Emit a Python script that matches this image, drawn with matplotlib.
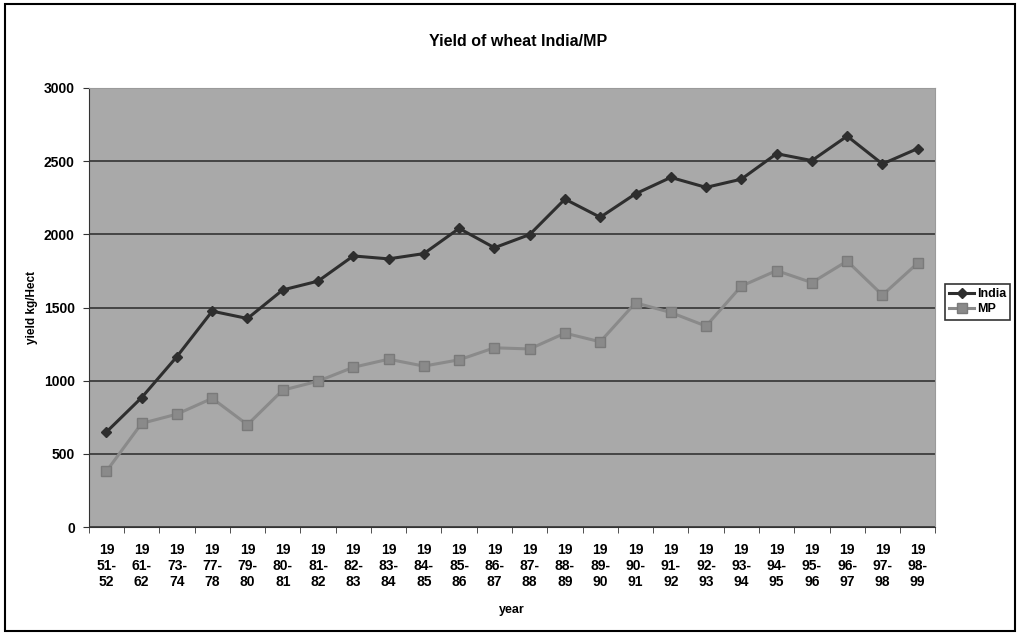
import matplotlib
matplotlib.use("Agg")
import matplotlib.pyplot as plt
from matplotlib.patches import Rectangle

# Données
years = ["19\n51-\n52", "19\n61-\n62", "19\n73-\n74", "19\n77-\n78", "19\n79-\n80",
         "19\n80-\n81", "19\n81-\n82", "19\n82-\n83", "19\n83-\n84", "19\n84-\n85",
         "19\n85-\n86", "19\n86-\n87", "19\n87-\n88", "19\n88-\n89", "19\n89-\n90",
         "19\n90-\n91", "19\n91-\n92", "19\n92-\n93", "19\n93-\n94", "19\n94-\n95",
         "19\n95-\n96", "19\n96-\n97", "19\n97-\n98", "19\n98-\n99"]
india = [650, 885, 1165, 1475, 1425, 1620, 1680, 1852, 1832, 1868, 2040, 1908,
         1998, 2240, 2116, 2276, 2388, 2320, 2376, 2550, 2503, 2670, 2480, 2585]
mp = [382, 709, 772, 880, 700, 936, 997, 1092, 1147, 1100, 1143, 1225,
      1217, 1325, 1266, 1532, 1466, 1373, 1646, 1752, 1670, 1817, 1585, 1803]
yticks = [0, 500, 1000, 1500, 2000, 2500, 3000]

plt.rcParams['font.family'] = ['Liberation Sans', 'DejaVu Sans']
plt.rcParams['font.weight'] = 'bold'

fig = plt.figure(figsize=(10.2, 6.36), dpi=100)
fig.patch.set_facecolor('white')

# Cadre extérieur
fig.patches.append(Rectangle((0.005, 0.008), 0.99, 0.986, transform=fig.transFigure,
                             fill=False, edgecolor='black', linewidth=1.5))

ax = fig.add_axes([0.087, 0.171, 0.83, 0.691])
ax.set_facecolor('#a9a9a9')

x = list(range(len(years)))
ax.plot(x, india, color='#2e2e2e', linewidth=2.2, marker='D', markersize=5.5,
        markerfacecolor='#2e2e2e', markeredgecolor='#2e2e2e', label='India')
ax.plot(x, mp, color='#8a8a8a', linewidth=2.2, marker='s', markersize=6.5,
        markerfacecolor='#8a8a8a', markeredgecolor='#7a7a7a', label='MP')

ax.set_ylim(0, 3000)
ax.set_xlim(-0.5, len(years) - 0.5)
ax.set_yticks(yticks)
ax.set_yticklabels([str(v) for v in yticks], fontsize=10, fontweight='bold')
ax.yaxis.grid(True, color='#2a2a2a', linewidth=1.1)
ax.set_axisbelow(True)

ax.set_xticks(x)
ax.set_xticklabels(years, fontsize=10, fontweight='bold', linespacing=1.2)
ax.set_xticks([i - 0.5 for i in range(len(years) + 1)], minor=True)
ax.tick_params(axis='x', which='major', length=0, pad=11)
ax.tick_params(axis='x', which='minor', length=4, color='#333333')
ax.tick_params(axis='y', length=4, color='#333333', pad=6)

for s in ['left', 'bottom']:
    ax.spines[s].set_color('#333333')
for s in ['top', 'right']:
    ax.spines[s].set_color('#9a9a9a')

ax.set_xlabel('year', fontsize=9, fontweight='bold', labelpad=11)
ax.set_ylabel('yield kg/Hect', fontsize=8.5, fontweight='bold', labelpad=4)
fig.text(0.508, 0.935, 'Yield of wheat India/MP', ha='center', va='center',
         fontsize=11.5, fontweight='bold')

leg = fig.legend(loc='upper left', bbox_to_anchor=(945 / 1020, 1 - 284 / 636), fontsize=9,
                 frameon=True, fancybox=False, edgecolor='black', borderpad=0.35,
                 handlelength=2, handletextpad=0.2, labelspacing=0.25,
                 borderaxespad=0)
leg.get_frame().set_linewidth(1.2)

fig.savefig('out.png', dpi=100)
